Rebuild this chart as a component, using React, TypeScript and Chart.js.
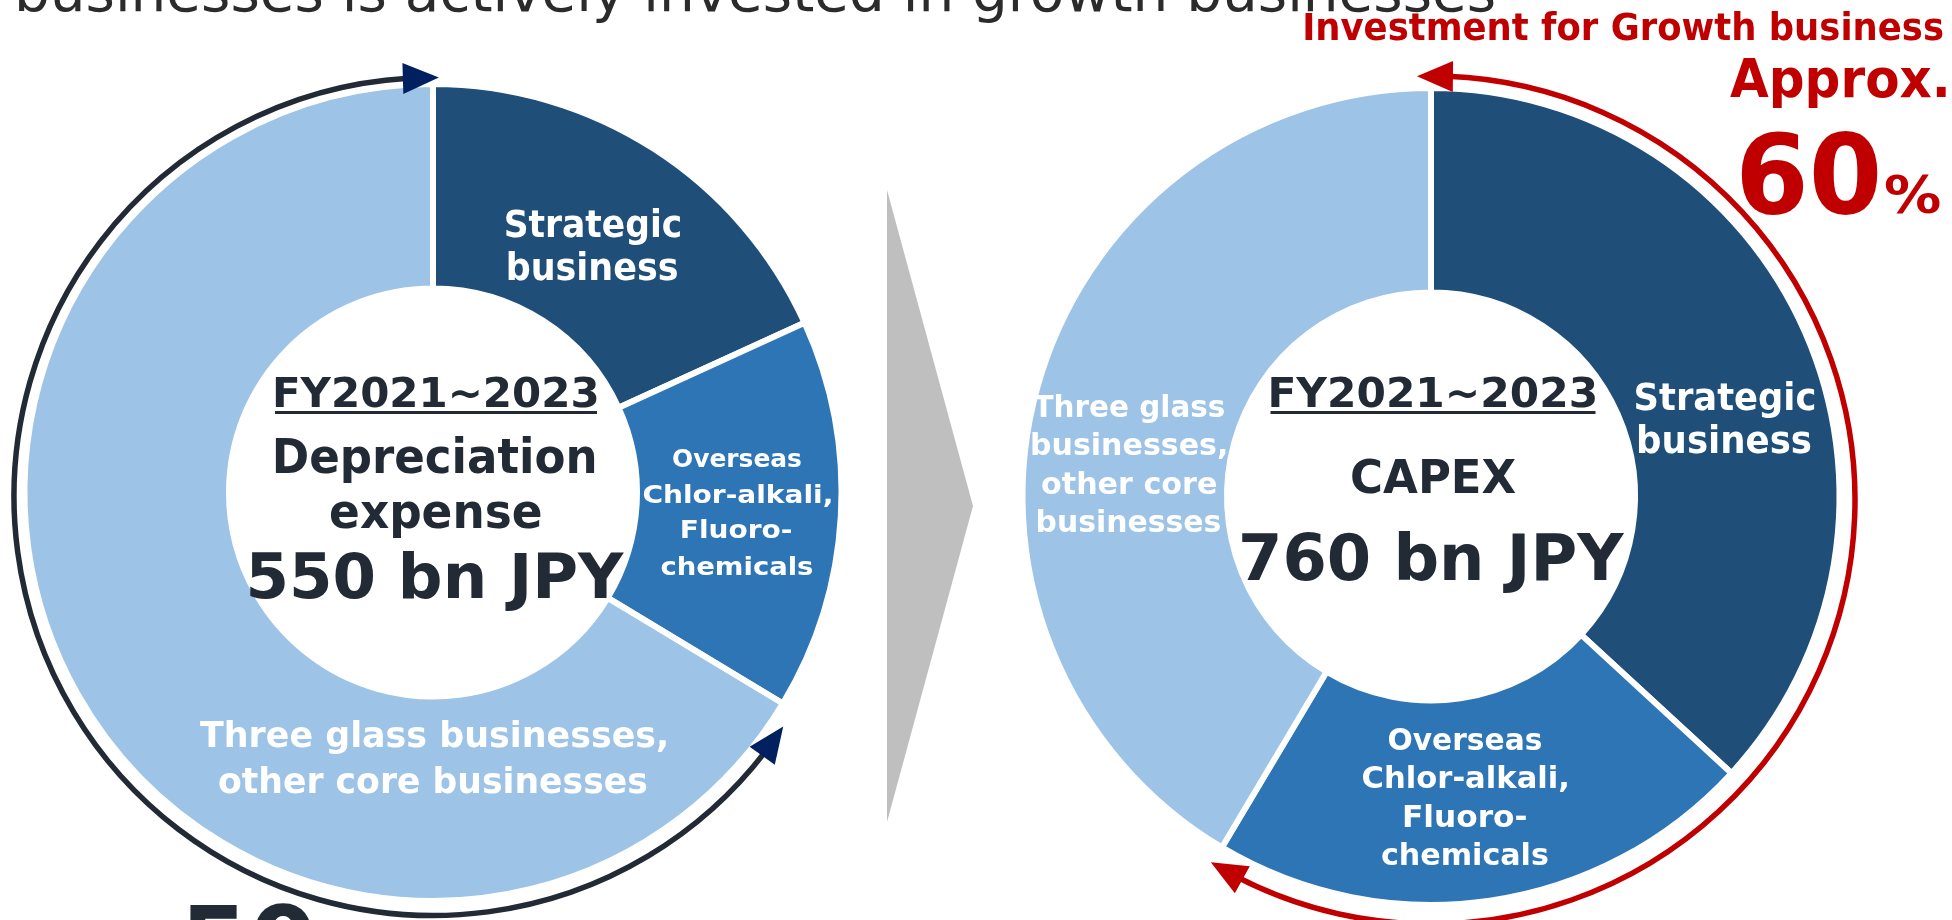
import React, { useEffect, useRef } from 'react';
import { Chart, registerables } from 'chart.js';

Chart.register(...registerables);

// ---------- data ----------
const categories = [
  'Strategic business',
  'Overseas Chlor-alkali, Fluorochemicals',
  'Three glass businesses, other core businesses',
];
const depreciationValues = [100, 85, 365]; // bn JPY, FY2021~2023 depreciation expense (total 550)
const capexValues = [280, 165, 315]; // bn JPY, FY2021~2023 CAPEX (total 760)
const sliceColors = ['#1F4E79', '#2E75B6', '#9DC3E6'];

const periodLabel = 'FY2021~2023';
const leftTitle = ['Depreciation', 'expense'];
const leftTotal = '550 bn JPY';
const rightTitle = 'CAPEX';
const rightTotal = '760 bn JPY';
const leftSliceLabels = [
  ['Strategic', 'business'],
  ['Overseas', 'Chlor-alkali,', 'Fluoro-', 'chemicals'],
  ['Three glass businesses,', 'other core businesses'],
];
const rightSliceLabels = [
  ['Strategic', 'business'],
  ['Overseas', 'Chlor-alkali,', 'Fluoro-', 'chemicals'],
  ['Three glass', 'businesses,', 'other core', 'businesses'],
];
const headline = 'businesses is actively invested in growth businesses';
const growthCaption = 'Investment for Growth business';
const approxLabel = 'Approx.';
const growthShare = '60';
const percentSign = '%';
const bottomCutText = '50';

// ---------- styles / layout ----------
const FONT = '"DejaVu Sans", Verdana, sans-serif';
const DARK = '#222A35';
const WHITE = '#FFFFFF';
const RED = '#C00000';
const NAVY = '#002060';
const W = 1952;
const H = 920;
const OUTER_R = 408.5;
const INNER_R = 204;

type Align = 'left' | 'center' | 'right';
type TextItem = {
  text: string;
  x: number;
  y: number;
  size: number;
  width?: number;
  align: Align;
  color: string;
  weight?: string;
  underline?: boolean;
};

function drawText(ctx: CanvasRenderingContext2D, t: TextItem) {
  ctx.save();
  ctx.font = `${t.weight ?? 'bold'} ${t.size}px ${FONT}`;
  ctx.fillStyle = t.color;
  ctx.textBaseline = 'alphabetic';
  ctx.textAlign = 'left';
  const m = ctx.measureText(t.text);
  const inkL = m.actualBoundingBoxLeft;
  const inkW = m.actualBoundingBoxLeft + m.actualBoundingBoxRight;
  const sx = t.width ? t.width / inkW : 1;
  const drawnW = inkW * sx;
  let left = t.x;
  if (t.align === 'center') left = t.x - drawnW / 2;
  else if (t.align === 'right') left = t.x - drawnW;
  ctx.translate(left + inkL * sx, t.y);
  ctx.scale(sx, 1);
  ctx.fillText(t.text, 0, 0);
  ctx.restore();
  if (t.underline) {
    ctx.save();
    ctx.fillStyle = t.color;
    ctx.fillRect(left, t.y + 4, drawnW, 3);
    ctx.restore();
  }
}

function block(lines: string[], x: number, ys: number[], size: number, widths: number[], color: string): TextItem[] {
  return lines.map((text, i) => ({ text, x, y: ys[i], size, width: widths[i], align: 'center' as Align, color }));
}

const leftTexts: TextItem[] = [
  { text: periodLabel, x: 436, y: 407, size: 41, width: 322, align: 'center', color: DARK, underline: true },
  { text: leftTitle[0], x: 435, y: 473, size: 48, width: 319, align: 'center', color: DARK },
  { text: leftTitle[1], x: 436, y: 528, size: 48, width: 210, align: 'center', color: DARK },
  { text: leftTotal, x: 437, y: 598, size: 62, width: 375, align: 'center', color: DARK },
  ...block(leftSliceLabels[0], 593, [237, 280], 37, [175, 169], WHITE),
  ...block(leftSliceLabels[1], 737, [467, 503, 538, 575], 25, [128, 187, 110, 151], WHITE),
  ...block(leftSliceLabels[2], 433, [747, 793], 35, [466, 428], WHITE),
];

const rightTexts: TextItem[] = [
  { text: periodLabel, x: 1433, y: 407, size: 41, width: 325, align: 'center', color: DARK, underline: true },
  { text: rightTitle, x: 1434, y: 493, size: 47, width: 164, align: 'center', color: DARK },
  { text: rightTotal, x: 1433, y: 580, size: 64, width: 382, align: 'center', color: DARK },
  ...block(rightSliceLabels[0], 1725, [410, 453], 37, [179, 172], WHITE),
  ...block(rightSliceLabels[1], 1465, [750, 788, 827, 865], 30, [153, 205, 122, 166], WHITE),
  ...block(rightSliceLabels[2], 1129, [417, 455, 494, 532], 30, [191, 194, 174, 183], WHITE),
  { text: growthCaption, x: 1943, y: 40, size: 37, width: 638, align: 'right', color: RED },
  { text: approxLabel, x: 1946, y: 97, size: 53, width: 216, align: 'right', color: RED },
  { text: growthShare, x: 1741, y: 213, size: 110, width: 137, align: 'left', color: RED },
  { text: percentSign, x: 1885, y: 213, size: 52, width: 55, align: 'left', color: RED },
];

const pageTexts: TextItem[] = [
  { text: headline, x: 19, y: 11, size: 56, width: 1475, align: 'left', color: '#2B2B2B', weight: 'normal' },
  { text: bottomCutText, x: 187, y: 978, size: 100, width: 126, align: 'left', color: DARK },
];

const deg = (d: number) => (d * Math.PI) / 180;

function drawArcArrow(
  ctx: CanvasRenderingContext2D,
  cx: number,
  cy: number,
  R: number,
  tipA: number,
  tipB: number,
  lineColor: string,
  headColor: string,
  lw: number,
) {
  const HL = 36;
  const HW = 15.5;
  const dA = HL / R;
  ctx.save();
  ctx.strokeStyle = lineColor;
  ctx.lineWidth = lw;
  ctx.lineCap = 'butt';
  ctx.beginPath();
  ctx.arc(cx, cy, R, tipA + dA * 0.85, tipB - dA * 0.85);
  ctx.stroke();
  const head = (ta: number, tb: number) => {
    const tx = cx + R * Math.cos(ta);
    const ty = cy + R * Math.sin(ta);
    const bx = cx + R * Math.cos(tb);
    const by = cy + R * Math.sin(tb);
    const dx = tx - bx;
    const dy = ty - by;
    const len = Math.hypot(dx, dy);
    const nx = (-dy / len) * HW;
    const ny = (dx / len) * HW;
    ctx.fillStyle = headColor;
    ctx.beginPath();
    ctx.moveTo(tx, ty);
    ctx.lineTo(bx + nx, by + ny);
    ctx.lineTo(bx - nx, by - ny);
    ctx.closePath();
    ctx.fill();
  };
  head(tipA, tipA + dA);
  head(tipB, tipB - dA);
  ctx.restore();
}

const leftDecor = {
  id: 'leftDecor',
  afterDraw(chart: any) {
    const ctx: CanvasRenderingContext2D = chart.ctx;
    const arcs = chart.getDatasetMeta(0).data as any[];
    const cx = arcs[0].x;
    const cy = arcs[0].y;
    // arc over the "three glass / core" slice
    drawArcArrow(ctx, cx, cy + 4, 419, arcs[2].startAngle + deg(2.2), arcs[2].endAngle + deg(0.8), DARK, NAVY, 5.5);
    // grey chevron between the charts
    ctx.save();
    ctx.fillStyle = '#BFBFBF';
    ctx.beginPath();
    ctx.moveTo(887, 190);
    ctx.lineTo(973, 506);
    ctx.lineTo(887, 822);
    ctx.closePath();
    ctx.fill();
    ctx.restore();
    leftTexts.forEach((t) => drawText(ctx, t));
    pageTexts.forEach((t) => drawText(ctx, t));
  },
};

const rightDecor = {
  id: 'rightDecor',
  afterDraw(chart: any) {
    const ctx: CanvasRenderingContext2D = chart.ctx;
    const arcs = chart.getDatasetMeta(0).data as any[];
    const cx = arcs[0].x;
    const cy = arcs[0].y;
    // arc over the growth slices (strategic + overseas chlor-alkali)
    drawArcArrow(ctx, cx, cy + 3.5, 424, arcs[0].startAngle - deg(1.9), arcs[1].endAngle + deg(0.5), RED, RED, 5.5);
    rightTexts.forEach((t) => drawText(ctx, t));
  },
};

function makeConfig(values: number[], padding: any, decor: any): any {
  return {
    type: 'doughnut',
    data: {
      labels: categories,
      datasets: [
        {
          data: values,
          backgroundColor: sliceColors,
          borderColor: '#FFFFFF',
          borderWidth: 6,
          hoverOffset: 0,
        },
      ],
    },
    options: {
      responsive: false,
      animation: false,
      devicePixelRatio: 1,
      radius: OUTER_R,
      cutout: `${(INNER_R / OUTER_R) * 100}%`,
      layout: { padding },
      events: [],
      plugins: { legend: { display: false }, tooltip: { enabled: false } },
    },
    plugins: [decor],
  };
}

export default function App() {
  const leftRef = useRef<HTMLCanvasElement>(null);
  const rightRef = useRef<HTMLCanvasElement>(null);

  useEffect(() => {
    const left = new Chart(
      leftRef.current as HTMLCanvasElement,
      makeConfig(depreciationValues, { left: 0, right: 1086, top: 65, bottom: 0 }, leftDecor),
    );
    const right = new Chart(
      rightRef.current as HTMLCanvasElement,
      makeConfig(capexValues, { left: 910, right: 0, top: 73, bottom: 0 }, rightDecor),
    );
    return () => {
      left.destroy();
      right.destroy();
    };
  }, []);

  return (
    <div
      style={{
        position: 'fixed',
        left: 0,
        top: 0,
        width: W,
        height: H,
        overflow: 'hidden',
        background: '#FFFFFF',
      }}
    >
      <canvas ref={leftRef} width={W} height={H} style={{ position: 'absolute', left: 0, top: 0 }} />
      <canvas ref={rightRef} width={W} height={H} style={{ position: 'absolute', left: 0, top: 0 }} />
    </div>
  );
}
